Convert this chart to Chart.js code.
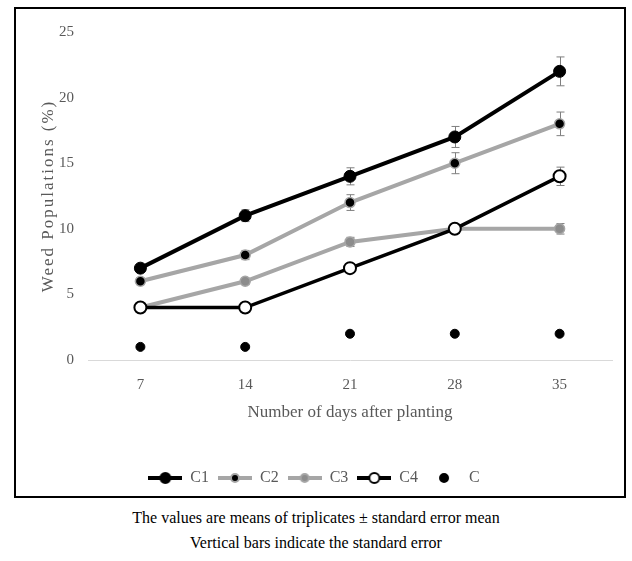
<!DOCTYPE html>
<html>
<head>
    <title>Weed Populations</title>
    <script src="https://cdn.jsdelivr.net/npm/chart.js"></script>
    <style>
        body { margin: 0; background: #fff; width: 632px; height: 561px; position: relative; }
        .frame {
            position: absolute; left: 14px; top: 7px;
            width: 608px; height: 487px;
            border: 2px solid #000;
        }
        .note {
            position: absolute; left: 0; width: 632px; text-align: center;
            font-family: "Liberation Serif", serif; font-size: 16px; color: #000;
        }
    </style>
</head>
<body>
    <div class="frame">
        <canvas id="lineChart" width="608" height="487"></canvas>
    </div>
    <div class="note" style="top: 509px;">The values are means of triplicates ± standard error mean</div>
    <div class="note" style="top: 534px;">Vertical bars indicate the standard error</div>

    <script>
        // ngày sau khi trồng
        const days = ['7', '14', '21', '28', '35'];
        const yTicks = [0, 5, 10, 15, 20, 25];

        const c1 = [7, 11, 14, 17, 22];
        const c2 = [6, 8, 12, 15, 18];
        const c3 = [4, 6, 9, 10, 10];
        const c4 = [4, 4, 7, 10, 14];
        const c0 = [1, 1, 2, 2, 2];

        // sai số chuẩn
        const c1Err = [0.3, 0.45, 0.65, 0.8, 1.1];
        const c2Err = [0.25, 0.35, 0.6, 0.8, 0.9];
        const c3Err = [0.2, 0.25, 0.35, 0.3, 0.4];
        const c4Err = [0.2, 0.2, 0.25, 0.3, 0.7];

        const black = '#000000';
        const grey = '#a6a6a6';
        const textGrey = '#595959';

        function legendIcon(lineColor, fill, border, r, withLine) {
            const cv = document.createElement('canvas');
            cv.width = 34; cv.height = 16;
            const g = cv.getContext('2d');
            if (withLine) {
                g.strokeStyle = lineColor; g.lineWidth = 4;
                g.beginPath(); g.moveTo(0, 8); g.lineTo(34, 8); g.stroke();
            }
            g.beginPath(); g.arc(17, 8, r, 0, Math.PI * 2);
            g.fillStyle = fill; g.fill();
            g.lineWidth = 2; g.strokeStyle = border; g.stroke();
            return cv;
        }

        const icons = [
            legendIcon(black, black, black, 5, true),
            legendIcon(grey, black, grey, 4, true),
            legendIcon(grey, '#8c8c8c', grey, 4, true),
            legendIcon(black, '#ffffff', black, 5, true),
            legendIcon(black, black, black, 4, false)
        ];

        const errorBars = {
            id: 'errorBars',
            beforeDatasetsDraw(chart) {
                const ctx = chart.ctx;
                const x = chart.scales.x, y = chart.scales.y;
                ctx.save();
                ctx.strokeStyle = '#7f7f7f';
                ctx.lineWidth = 1;
                chart.data.datasets.forEach(ds => {
                    if (!ds.errors) return;
                    ds.data.forEach((v, i) => {
                        const px = Math.round(x.getPixelForValue(i)) + 0.5;
                        const top = y.getPixelForValue(v + ds.errors[i]);
                        const bot = y.getPixelForValue(v - ds.errors[i]);
                        ctx.beginPath();
                        ctx.moveTo(px, top); ctx.lineTo(px, bot);
                        ctx.moveTo(px - 4, top); ctx.lineTo(px + 4, top);
                        ctx.moveTo(px - 4, bot); ctx.lineTo(px + 4, bot);
                        ctx.stroke();
                    });
                });
                ctx.restore();
            }
        };

        const yTitle = {
            id: 'yTitle',
            afterDraw(chart) {
                const ctx = chart.ctx;
                const a = chart.chartArea;
                ctx.save();
                ctx.translate(33, (a.top + a.bottom) / 2);
                ctx.rotate(-Math.PI / 2);
                ctx.font = '17px "Liberation Serif"';
                ctx.letterSpacing = '2px';
                ctx.fillStyle = textGrey;
                ctx.textAlign = 'center';
                ctx.textBaseline = 'middle';
                ctx.fillText('Weed Populations (%)', 0, 0);
                ctx.restore();
            }
        };

        const ctx = document.getElementById('lineChart').getContext('2d');
        new Chart(ctx, {
            type: 'line',
            data: {
                labels: days,
                datasets: [
                    { label: 'C1', data: c1, errors: c1Err, borderColor: black, borderWidth: 4,
                      pointRadius: 6, pointBackgroundColor: black, pointBorderColor: black, pointBorderWidth: 1 },
                    { label: 'C2', data: c2, errors: c2Err, borderColor: grey, borderWidth: 4,
                      pointRadius: 5, pointBackgroundColor: black, pointBorderColor: grey, pointBorderWidth: 1.5 },
                    { label: 'C3', data: c3, errors: c3Err, borderColor: grey, borderWidth: 4,
                      pointRadius: 5, pointBackgroundColor: '#8c8c8c', pointBorderColor: grey, pointBorderWidth: 1.5 },
                    { label: 'C4', data: c4, errors: c4Err, borderColor: black, borderWidth: 3.5, order: -1,
                      pointRadius: 6, pointBackgroundColor: '#ffffff', pointBorderColor: black, pointBorderWidth: 2 },
                    { label: 'C', data: c0, showLine: false, borderColor: black,
                      pointRadius: 4.5, pointBackgroundColor: black, pointBorderColor: black, pointBorderWidth: 1 }
                ]
            },
            options: {
                responsive: false,
                animation: false,
                layout: { padding: { top: 23, right: 12, left: 0, bottom: 0 } },
                plugins: {
                    tooltip: { enabled: false },
                    legend: {
                        position: 'bottom',
                        labels: {
                            usePointStyle: true,
                            pointStyleWidth: 34,
                            padding: 9,
                            color: textGrey,
                            font: { family: 'Liberation Serif', size: 16 },
                            generateLabels: chart =>
                                Chart.defaults.plugins.legend.labels.generateLabels(chart)
                                    .sort((a, b) => a.datasetIndex - b.datasetIndex)
                                    .map(l => ({ ...l, pointStyle: icons[l.datasetIndex] }))
                        }
                    }
                },
                scales: {
                    x: {
                        offset: true,
                        grid: { display: false },
                        border: { color: '#d9d9d9', width: 1 },
                        ticks: { color: textGrey, padding: 8, font: { family: 'Liberation Serif', size: 15 } },
                        title: {
                            display: true,
                            text: 'Number of days after planting',
                            color: textGrey,
                            font: { family: 'Liberation Serif', size: 17 },
                            padding: { top: 4, bottom: 38 }
                        },
                        afterFit: s => { s.height = 101; }
                    },
                    y: {
                        min: 0,
                        max: 25,
                        grid: { display: false },
                        border: { display: false },
                        afterBuildTicks: s => { s.ticks = yTicks.map(v => ({ value: v })); },
                        ticks: { color: textGrey, padding: 6, font: { family: 'Liberation Serif', size: 15 } },
                        afterFit: s => { s.width = 72; }
                    }
                }
            },
            plugins: [errorBars, yTitle]
        });
    </script>
</body>
</html>
